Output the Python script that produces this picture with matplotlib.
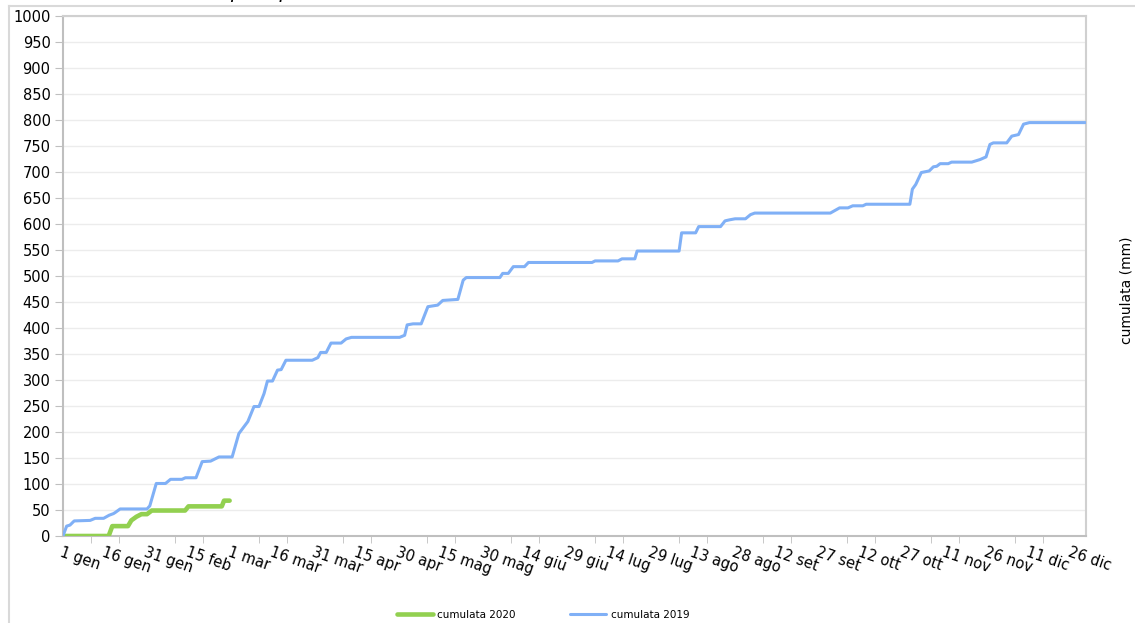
import matplotlib
matplotlib.use("Agg")
import matplotlib.pyplot as plt
from matplotlib.lines import Line2D

# cumulata 2019: (giorno dell'anno, mm)
giorni_2019 = [0, 1.3, 2.5, 4, 9.7, 11.5, 14.5, 16.5, 18, 18.6, 20.4, 30, 31, 33.3,
               36.6, 38.4, 42.5, 43.7, 47.5, 49.7, 52.7, 55.7, 60.4, 62.8, 64.6, 66,
               68.2, 70, 71.8, 73, 74.8, 76.6, 77.9, 79.6, 89, 91, 92, 94, 95.7, 99.3,
               101.1, 103, 120.2, 122, 122.9, 125, 127.9, 130.3, 133.8, 135.6, 141,
               142.9, 144, 156, 157, 159, 160.8, 164.8, 166.2, 188.9, 190, 198.2,
               199.6, 204.2, 205, 220, 220.9, 225.9, 227, 234.8, 236.4, 238, 240,
               243.7, 245.5, 247, 274, 277.3, 280.3, 282, 285.6, 286.8, 302.4, 303.3,
               304.5, 306.5, 309.3, 310.8, 312, 313.2, 316.1, 317.3, 324.5, 326.3,
               327.5, 329.6, 331, 332.2, 337, 338.8, 341.2, 343, 345.1, 365]
cum_2019 = [0, 19, 21, 29, 30, 34, 34, 40, 43, 45, 52, 52, 58, 101,
            101, 109, 109, 112, 112, 143, 144, 152, 152, 197, 210, 220,
            249, 249, 274, 298, 298, 319, 320, 338, 338, 343, 353, 353, 371, 371,
            379, 382, 382, 386, 406, 408, 408, 441, 444, 453, 455,
            492, 497, 497, 505, 505, 518, 518, 526, 526, 529, 529,
            533, 533, 548, 548, 583, 583, 595, 595, 606, 608, 610,
            610, 618, 621, 621, 631, 631, 635, 635, 638, 638, 667,
            676, 699, 702, 710, 711, 716, 716, 719, 719, 722,
            724, 729, 753, 756, 756, 769, 772, 792, 795, 795]

# cumulata 2020
giorni_2020 = [0, 16.3, 17.6, 23.2, 24.4, 26.2, 28, 30, 31.7, 43.6, 44.8, 56.7, 57.5, 59.5]
cum_2020 = [0, 0, 19, 19, 30, 37, 42, 42, 49, 49, 57, 57, 68, 68]

etichette = ["1 gen", "16 gen", "31 gen", "15 feb", "1 mar", "16 mar", "31 mar",
             "15 apr", "30 apr", "15 mag", "30 mag", "14 giu", "29 giu", "14 lug",
             "29 lug", "13 ago", "28 ago", "12 set", "27 set", "12 ott", "27 ott",
             "11 nov", "26 nov", "11 dic", "26 dic"]
pos_etichette = [15 * i for i in range(len(etichette))]

W, H = 1135, 623
fig = plt.figure(figsize=(W / 100, H / 100), dpi=100)
ax = fig.add_axes([63 / W, 1 - 536 / H, (1086 - 63) / W, (536 - 16) / H])

ax.plot(giorni_2020, cum_2020, color="#92d050", lw=3.3, label="cumulata 2020",
        solid_capstyle="round", zorder=3)
ax.plot(giorni_2019, cum_2019, color="#80b0f6", lw=2.2, label="cumulata 2019",
        solid_capstyle="round", zorder=3)

ax.set_xlim(0, 365.3)
ax.set_ylim(0, 1000)
ax.set_yticks(range(0, 1001, 50))
ax.grid(axis="y", color="#ececec", lw=1)
ax.set_axisbelow(True)

ax.set_xticks(pos_etichette)
ax.set_xticklabels(etichette, rotation=-19, ha="left", va="top",
                   rotation_mode="anchor", fontsize=10.5)
ax.set_xticks(range(0, 366, 10), minor=True)
ax.tick_params(axis="x", which="major", length=0, pad=6)
ax.tick_params(axis="x", which="minor", length=5, color="#bfbfbf")
ax.tick_params(axis="y", length=6, color="#bfbfbf", labelsize=10.5, pad=3)

for s in ["left", "bottom"]:
    ax.spines[s].set_color("#bfbfbf")
    ax.spines[s].set_linewidth(1.5)
for s in ["top", "right"]:
    ax.spines[s].set_color("#d0d0d0")
    ax.spines[s].set_linewidth(1.5)

# bordo esterno del grafico (tagliato)
fig.add_artist(Line2D([9 / W, 1], [1 - 6 / H, 1 - 6 / H], color="#d9d9d9", lw=1.5))
fig.add_artist(Line2D([9 / W, 9 / W], [0, 1 - 6 / H], color="#d9d9d9", lw=1.5))

# titolo tagliato in alto, come nell'originale
fig.text(14 / W, 1 + 1.5 / H, "Andamento cumulata precipitazioni 2020",
         fontsize=14, style="italic", va="baseline", ha="left")

fig.text(1126 / W, 1 - 290 / H, "cumulata (mm)", rotation=90, fontsize=10,
         ha="center", va="center")

fig.legend(loc="center", bbox_to_anchor=(543 / W, 1 - 615 / H), ncol=2,
           frameon=False, fontsize=7.5, handlelength=3.5, columnspacing=5.2,
           handletextpad=0.4)

fig.savefig("out.png", dpi=100)
